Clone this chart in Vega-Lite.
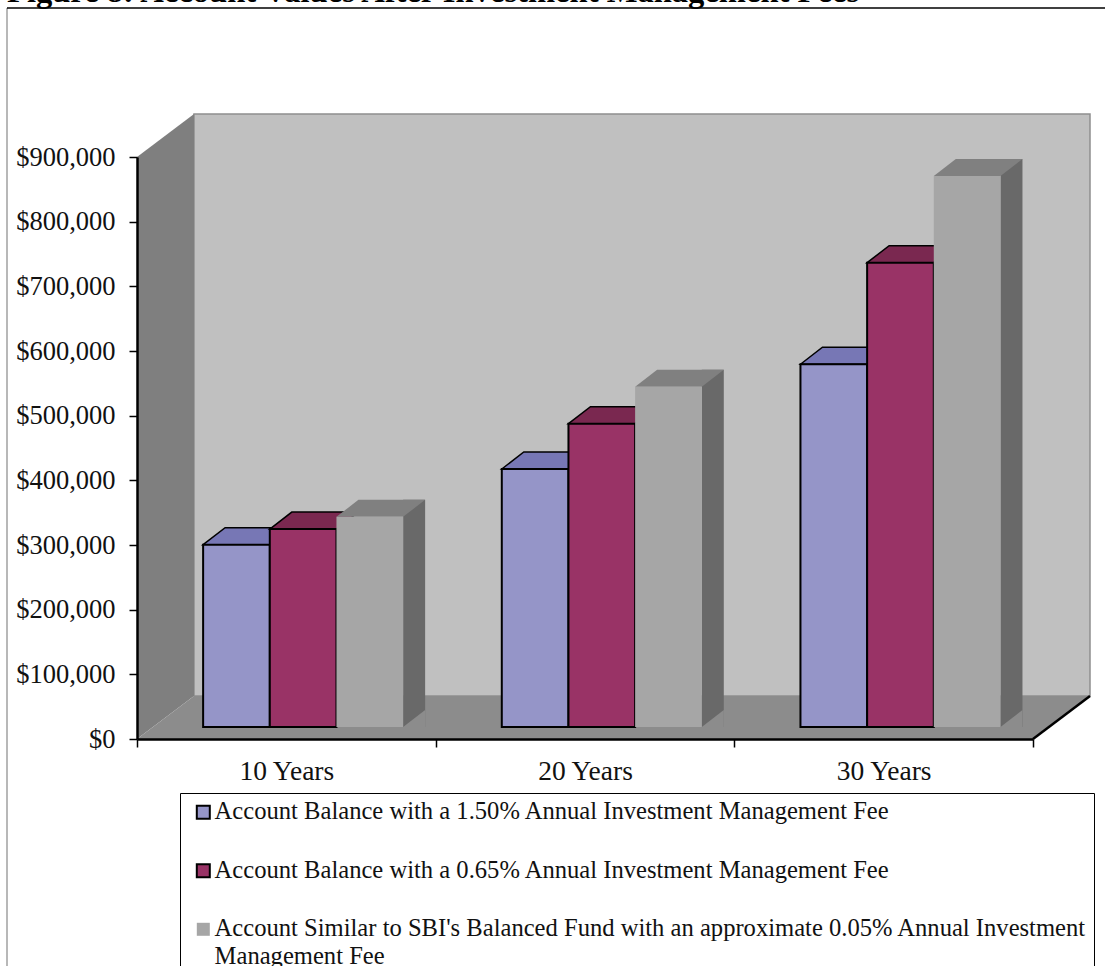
{
"$schema":"https://vega.github.io/schema/vega-lite/v6.json",
"autosize":{"type":"none"},
"width":896,"height":582,
"padding":{"left":137,"top":157,"right":72,"bottom":227},
"background":"white",
"config":{"view":{"stroke":null},"font":"Liberation Serif"},
"title":{"text":"Figure 8: Account Values After Investment Management Fees","anchor":"start","frame":"group","orient":"top","offset":-30,"dx":-130,"baseline":"alphabetic","font":"Liberation Serif","fontWeight":"bold","fontSize":32.6,"color":"#000000"},
"data":{"values":[
{"Years":"10 Years","Series":"Account Balance with a 1.50% Annual Investment Management Fee","Value":282000},
{"Years":"10 Years","Series":"Account Balance with a 0.65% Annual Investment Management Fee","Value":306000},
{"Years":"10 Years","Series":"Account Similar to SBI's Balanced Fund with an approximate 0.05% Annual Investment Management Fee","Value":325000},
{"Years":"20 Years","Series":"Account Balance with a 1.50% Annual Investment Management Fee","Value":399000},
{"Years":"20 Years","Series":"Account Balance with a 0.65% Annual Investment Management Fee","Value":469000},
{"Years":"20 Years","Series":"Account Similar to SBI's Balanced Fund with an approximate 0.05% Annual Investment Management Fee","Value":526000},
{"Years":"30 Years","Series":"Account Balance with a 1.50% Annual Investment Management Fee","Value":561000},
{"Years":"30 Years","Series":"Account Balance with a 0.65% Annual Investment Management Fee","Value":718000},
{"Years":"30 Years","Series":"Account Similar to SBI's Balanced Fund with an approximate 0.05% Annual Investment Management Fee","Value":852000}
]},
"encoding":{
"x":{"field":"Years","type":"nominal","scale":{"domain":["10 Years","20 Years","30 Years"],"paddingInner":0,"paddingOuter":0},"axis":{"title":null,"labelAngle":0,"tickBand":"extent","labelFontSize":27.5,"labelFont":"Liberation Serif","labelColor":"#111111","labelPadding":10,"tickSize":8,"tickColor":"#000000","tickWidth":1.5,"domainColor":"#000000","domainWidth":2.5,"zindex":1}},
"y":{"field":"Value","type":"quantitative","scale":{"domain":[0,900000],"nice":false},"axis":{"title":null,"values":[0,100000,200000,300000,400000,500000,600000,700000,800000,900000],"format":"$,.0f","grid":false,"labelFontSize":26.5,"labelFont":"Liberation Serif","labelColor":"#111111","labelPadding":14,"tickSize":8,"tickColor":"#000000","tickWidth":1.5,"domainColor":"#000000","domainWidth":2.5,"zindex":1}},
"xOffset":{"field":"Series","type":"nominal","scale":{"domain":["Account Balance with a 1.50% Annual Investment Management Fee","Account Balance with a 0.65% Annual Investment Management Fee","Account Similar to SBI's Balanced Fund with an approximate 0.05% Annual Investment Management Fee"],"paddingInner":0,"paddingOuter":0.74,"align":0.6702}}
},
"layer":[
{"data":{"values":[{"Years":"10 Years","Value":0}]},"encoding":{"xOffset":{"value":0}},"mark":{"type":"point","filled":true,"opacity":1,"size":4,"fill":"#c0c0c0","stroke":"#8e8e8e","strokeWidth":1.5,"shape":"M57 -625L953 -625L953 -43L57 -43Z"}},
{"data":{"values":[{"Years":"10 Years","Value":0}]},"encoding":{"xOffset":{"value":0}},"mark":{"type":"point","filled":true,"opacity":1,"size":4,"fill":"#7f7f7f","strokeWidth":0,"shape":"M0 -582L57 -625L57 -43L0 0Z"}},
{"data":{"values":[{"Years":"10 Years","Value":0}]},"encoding":{"xOffset":{"value":0}},"mark":{"type":"point","filled":true,"opacity":1,"size":4,"fill":"#8c8c8c","strokeWidth":0,"shape":"M0 0L57 -43L953 -43L896 0Z"}},
{"data":{"values":[{"Years":"10 Years","Value":0}]},"encoding":{"xOffset":{"value":0}},"mark":{"type":"point","filled":false,"opacity":1,"size":4,"stroke":"#000000","strokeWidth":2.5,"shape":"M896 0L953 -43"}},
{"data":{"values":[{"Years":"10 Years","Value":0}]},"encoding":{"xOffset":{"value":0}},"mark":{"type":"point","filled":false,"opacity":1,"size":4,"stroke":"#a0a0a0","strokeWidth":1.5,"shape":"M-130 227L-130 -731"}},
{"data":{"values":[{"Years":"10 Years","Value":0}]},"encoding":{"xOffset":{"value":0}},"mark":{"type":"point","filled":false,"opacity":1,"size":4,"stroke":"#000000","strokeWidth":1.5,"shape":"M-130 -731L968 -731"}},
{"transform":[{"filter":"indexof(datum.Series,'SBI')>=0"}],"mark":{"type":"bar","fill":"#696969","width":22,"yOffset":-29,"y2Offset":-12},
 "encoding":{"xOffset":{"value":277.13},"y2":{"datum":0}}},
{"transform":[{"filter":"indexof(datum.Series,'SBI')>=0"}],"mark":{"type":"point","filled":true,"opacity":1,"size":4,"fill":"#8c8c8c","strokeWidth":0,"shape":"M33.33 -12L55.33 -29L55.33 -12Z"},
 "encoding":{"y":{"datum":0}}},
{"transform":[{"filter":"indexof(datum.Series,'1.50%')>=0"}],"mark":{"type":"point","filled":true,"opacity":1,"size":4,"fill":"#7777b5","stroke":"#000000","strokeWidth":1.5,"shape":"M-33.33 -12L-11.33 -29L55.33 -29L33.33 -12Z"}},
{"transform":[{"filter":"indexof(datum.Series,'0.65%')>=0"}],"mark":{"type":"point","filled":true,"opacity":1,"size":4,"fill":"#7a2850","stroke":"#000000","strokeWidth":1.5,"shape":"M-33.33 -12L-11.33 -29L55.33 -29L33.33 -12Z"}},
{"transform":[{"filter":"indexof(datum.Series,'SBI')>=0"}],"mark":{"type":"point","filled":true,"opacity":1,"size":4,"fill":"#808080","strokeWidth":0,"shape":"M-33.33 -12L-11.33 -29L55.33 -29L33.33 -12Z"}},
{"mark":{"type":"bar","yOffset":-12,"y2Offset":-12,"width":66.67,"strokeWidth":2},
 "encoding":{
 "y2":{"datum":0},
 "fill":{"field":"Series","type":"nominal","sort":null,"scale":{"domain":["Account Balance with a 1.50% Annual Investment Management Fee","Account Balance with a 0.65% Annual Investment Management Fee","Account Similar to SBI's Balanced Fund with an approximate 0.05% Annual Investment Management Fee"],"range":["#9595c8","#993366","#a6a6a6"]},
  "legend":{"orient":"none","legendX":43,"legendY":636,"title":null,"direction":"vertical","columns":1,"padding":7,"strokeColor":"#000000","fillColor":"#ffffff","symbolType":"square","symbolSize":169,"symbolStrokeWidth":2,"symbolOffset":4,"labelOffset":-1,"labelFont":"Liberation Serif","labelFontSize":24.6,"labelColor":"#111111","labelLimit":2000,"rowPadding":33.5,
  "labelExpr":"indexof(datum.label,'SBI')>=0 ? ['Account Similar to SBI\\'s Balanced Fund with an approximate 0.05% Annual Investment','Management Fee'] : datum.label",
  "encode":{"labels":{"update":{"lineHeight":{"value":28}}}}}},
 "stroke":{"field":"Series","type":"nominal","sort":null,"scale":{"domain":["Account Balance with a 1.50% Annual Investment Management Fee","Account Balance with a 0.65% Annual Investment Management Fee","Account Similar to SBI's Balanced Fund with an approximate 0.05% Annual Investment Management Fee"],"range":["#000000","#000000","rgba(0,0,0,0)"]},"legend":{"orient":"none"}}
 }}
]
}
